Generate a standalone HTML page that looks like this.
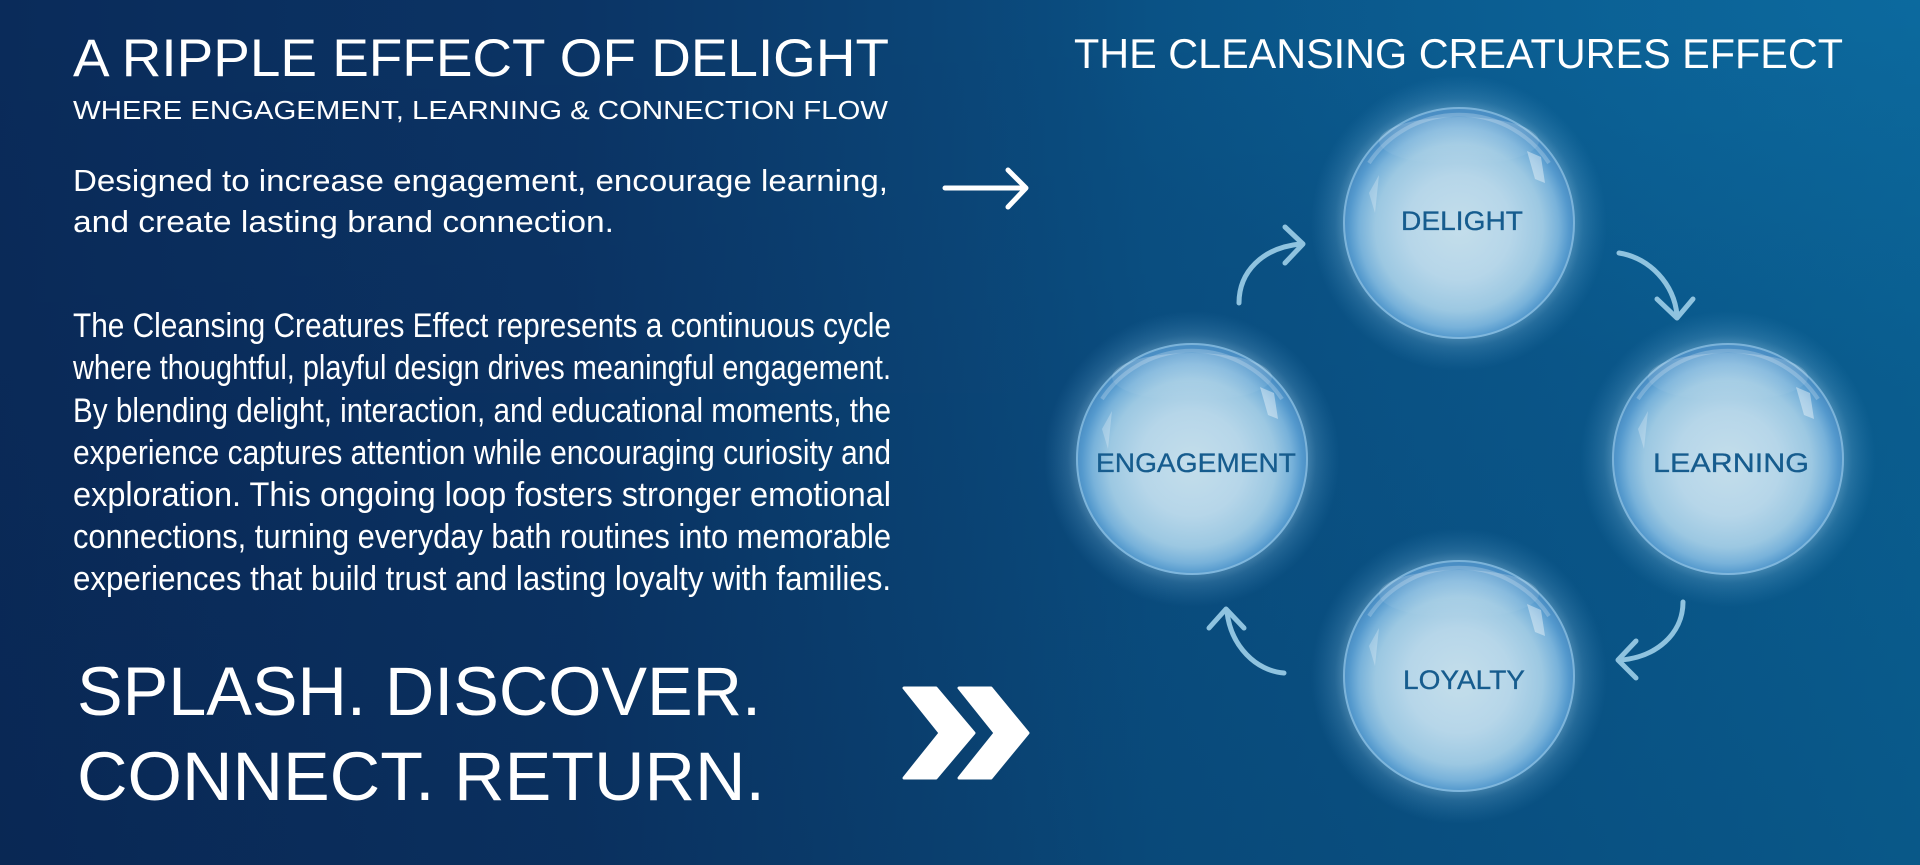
<!DOCTYPE html>
<html><head><meta charset="utf-8"><style>
html,body{margin:0;padding:0;width:1920px;height:865px;overflow:hidden;background:#0b3a6c}
svg{display:block}
</style></head><body>
<svg width="1920" height="865" viewBox="0 0 1920 865" xmlns="http://www.w3.org/2000/svg">
<defs>
<linearGradient id="bg" x1="0" y1="0" x2="1" y2="0">
<stop offset="0" stop-color="#0a2b5a"/>
<stop offset="0.3" stop-color="#0b3465"/>
<stop offset="0.48" stop-color="#0b4476"/>
<stop offset="0.6" stop-color="#0a5083"/>
<stop offset="0.85" stop-color="#0a5a8e"/>
<stop offset="1" stop-color="#0a6194"/>
</linearGradient>
<linearGradient id="vshade" x1="0" y1="0" x2="0" y2="1">
<stop offset="0" stop-color="#000820" stop-opacity="0"/>
<stop offset="1" stop-color="#000820" stop-opacity="0.1"/>
</linearGradient>
<radialGradient id="tr" cx="1" cy="0" r="0.45">
<stop offset="0" stop-color="#0e72a8" stop-opacity="0.5"/>
<stop offset="1" stop-color="#0e72a8" stop-opacity="0"/>
</radialGradient>
<radialGradient id="glow" cx="0.5" cy="0.5" r="0.5">
<stop offset="0.72" stop-color="#b8e0f6" stop-opacity="0.5"/>
<stop offset="0.84" stop-color="#8cc6ea" stop-opacity="0.2"/>
<stop offset="1" stop-color="#5aa6d8" stop-opacity="0"/>
</radialGradient>
<radialGradient id="bub" cx="0.5" cy="0.52" r="0.5">
<stop offset="0" stop-color="#c4deeb"/>
<stop offset="0.45" stop-color="#b6d6e9"/>
<stop offset="0.72" stop-color="#9cc8e2"/>
<stop offset="0.86" stop-color="#78b2da"/>
<stop offset="0.95" stop-color="#5499cd"/>
<stop offset="1" stop-color="#4a8ec4"/>
</radialGradient>
<linearGradient id="hl" x1="0" y1="0" x2="0" y2="1">
<stop offset="0" stop-color="#ffffff" stop-opacity="0.5"/>
<stop offset="1" stop-color="#ffffff" stop-opacity="0"/>
</linearGradient>
<g id="bubble">
<circle cx="0" cy="0" r="148" fill="url(#glow)"/>
<circle cx="0" cy="0" r="116" fill="url(#bub)"/>
<circle cx="0" cy="0" r="115" fill="none" stroke="#9ccbe8" stroke-width="2" stroke-opacity="0.6"/>
<path d="M-90,-60 A108,108 0 0 1 90,-60" fill="none" stroke="#ffffff" stroke-opacity="0.22" stroke-width="4"/>
<ellipse cx="0" cy="-82" rx="80" ry="24" fill="url(#hl)" opacity="0.45"/>
<path d="M68,-72 L82,-66 L86,-40 L76,-44 Z" fill="#ffffff" opacity="0.4"/>
<path d="M-90,-30 L-80,-48 L-84,-10 Z" fill="#ffffff" opacity="0.25"/>
</g>
</defs>

<rect width="1920" height="865" fill="url(#bg)"/>
<rect width="1920" height="865" fill="url(#tr)"/>
<rect width="1920" height="865" fill="url(#vshade)"/>

<!-- Left text -->
<g fill="#ffffff" font-family="'Liberation Sans', 'DejaVu Sans', sans-serif">
<text x="73" y="76" font-size="53" textLength="816" lengthAdjust="spacingAndGlyphs">A RIPPLE EFFECT OF DELIGHT</text>
<text x="73" y="119" font-size="26" textLength="815" lengthAdjust="spacingAndGlyphs">WHERE ENGAGEMENT, LEARNING &amp; CONNECTION FLOW</text>
</g>
<g fill="#ffffff" font-family="'Liberation Sans Narrow', 'Liberation Sans', sans-serif" font-size="31">
<text x="73" y="191" textLength="815" lengthAdjust="spacingAndGlyphs">Designed to increase engagement, encourage learning,</text>
<text x="73" y="232" textLength="541" lengthAdjust="spacingAndGlyphs">and create lasting brand connection.</text>
</g>
<g fill="#ffffff" font-family="'Liberation Sans Narrow', 'Liberation Sans', sans-serif" font-size="34">
<text x="73" y="337" textLength="818" lengthAdjust="spacingAndGlyphs">The Cleansing Creatures Effect represents a continuous cycle</text>
<text x="73" y="379" textLength="818" lengthAdjust="spacingAndGlyphs">where thoughtful, playful design drives meaningful engagement.</text>
<text x="73" y="422" textLength="818" lengthAdjust="spacingAndGlyphs">By blending delight, interaction, and educational moments, the</text>
<text x="73" y="464" textLength="818" lengthAdjust="spacingAndGlyphs">experience captures attention while encouraging curiosity and</text>
<text x="73" y="506" textLength="818" lengthAdjust="spacingAndGlyphs">exploration. This ongoing loop fosters stronger emotional</text>
<text x="73" y="548" textLength="818" lengthAdjust="spacingAndGlyphs">connections, turning everyday bath routines into memorable</text>
<text x="73" y="590" textLength="818" lengthAdjust="spacingAndGlyphs">experiences that build trust and lasting loyalty with families.</text>
</g>
<g fill="#ffffff" font-family="'Liberation Sans', 'DejaVu Sans', sans-serif" font-size="69">
<text x="77" y="715" textLength="684" lengthAdjust="spacingAndGlyphs">SPLASH. DISCOVER.</text>
<text x="77" y="800" textLength="688" lengthAdjust="spacingAndGlyphs">CONNECT. RETURN.</text>
</g>

<!-- chevrons -->
<g fill="#ffffff" stroke="#ffffff" stroke-width="3" stroke-linejoin="round">
<polygon points="904,688 936,688 974,733 936,778 904,778 940,733"/>
<polygon points="959,688 991,688 1028,733 991,778 959,778 995,733"/>
</g>

<!-- straight arrow -->
<g fill="none" stroke="#ffffff" stroke-width="5" stroke-linecap="round" stroke-linejoin="round">
<line x1="945" y1="188" x2="1025" y2="188"/>
<polyline points="1008,170 1026,188 1008,207"/>
</g>

<!-- Right title -->
<text x="1074" y="68" fill="#ffffff" font-family="'Liberation Sans', 'DejaVu Sans', sans-serif" font-size="42" textLength="769" lengthAdjust="spacingAndGlyphs">THE CLEANSING CREATURES EFFECT</text>

<!-- bubbles -->
<use href="#bubble" x="1459" y="223"/>
<use href="#bubble" x="1192" y="459"/>
<use href="#bubble" x="1728" y="459"/>
<use href="#bubble" x="1459" y="676"/>

<g fill="#165c8e" stroke="#165c8e" stroke-width="0.3" font-family="'Liberation Sans', 'DejaVu Sans', sans-serif" font-size="27">
<text x="1401" y="230" textLength="122" lengthAdjust="spacingAndGlyphs">DELIGHT</text>
<text x="1096" y="472" textLength="200" lengthAdjust="spacingAndGlyphs">ENGAGEMENT</text>
<text x="1653" y="472" textLength="156" lengthAdjust="spacingAndGlyphs">LEARNING</text>
<text x="1403" y="689" textLength="122" lengthAdjust="spacingAndGlyphs">LOYALTY</text>
</g>

<!-- curved arrows -->
<g fill="none" stroke="#8fc3df" stroke-width="5" stroke-linecap="round" stroke-linejoin="round">
<path d="M1239,303 C1239,272 1262,248 1300,244"/>
<polyline points="1285,227 1303,244 1285,263"/>
<path d="M1619,253 C1650,258 1674,284 1677,315"/>
<polyline points="1657,299 1677,318 1693,299"/>
<path d="M1683,602 C1683,634 1656,657 1621,660"/>
<polyline points="1636,641 1618,660 1636,678"/>
<path d="M1284,673 C1256,671 1231,646 1227,612"/>
<polyline points="1209,628 1226,609 1244,628"/>
</g>
</svg>
</body></html>
